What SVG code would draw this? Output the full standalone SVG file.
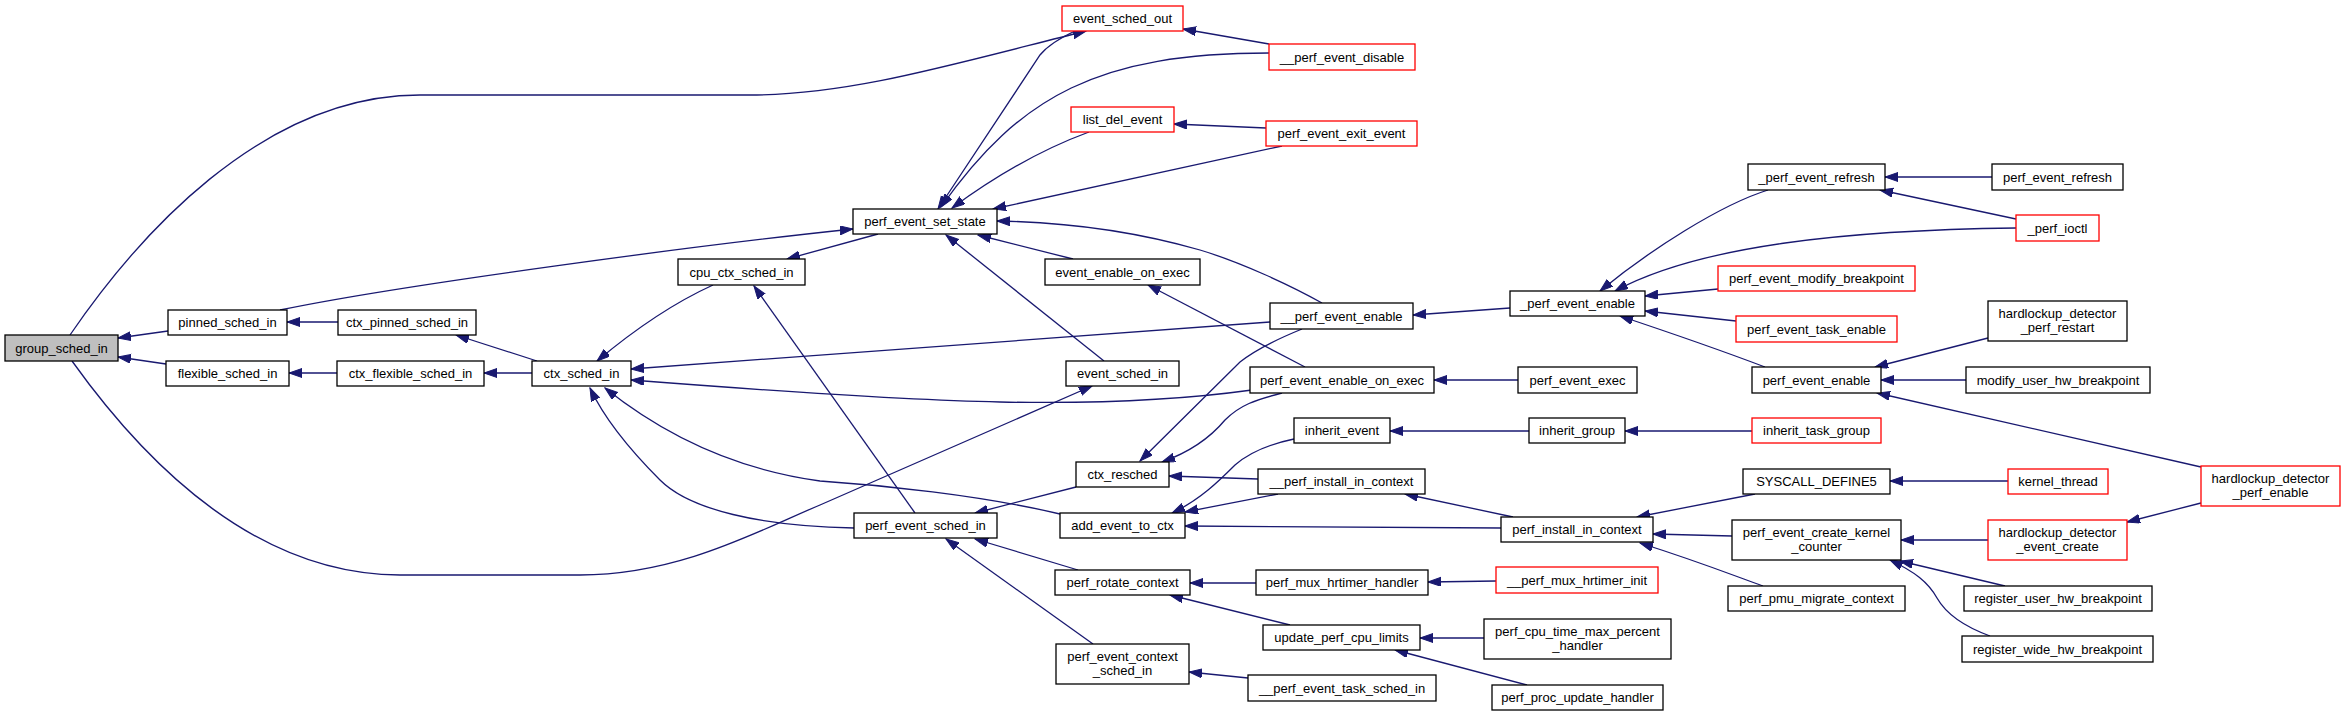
<svg xmlns="http://www.w3.org/2000/svg" width="2345" height="716" viewBox="0 0 2345 716">
<style>
.n rect{fill:#fff;stroke:#000;stroke-width:1.3}
.n.r rect{stroke:#ff0000}
.n.g rect{fill:#bfbfbf}
.n text{font-family:"Liberation Sans",Arial,sans-serif;font-size:13px;fill:#000;text-anchor:middle}
#edges path{fill:none;stroke:#191970;stroke-width:1.3;marker-end:url(#ah)}
</style>
<defs>
<marker id="ah" markerUnits="userSpaceOnUse" markerWidth="14" markerHeight="10" refX="13" refY="4.5" orient="auto">
<path d="M0,0 L13,4.5 L0,9 z" fill="#191970" stroke="#191970" stroke-width="1"/>
</marker>
</defs>
<rect width="2345" height="716" fill="#fff"/>
<g id="edges">
<path d="M168,331 L118,338"/>
<path d="M166,364 L118,357"/>
<path d="M70,335 C135,240 260,95 420,95 L750,95 C850,95 950,65 1086,31"/>
<path d="M72,361 C150,470 260,575 400,575 L580,575 C680,575 760,530 820,505 L1092,386"/>
<path d="M338,322 L287,322"/>
<path d="M337,373 L289,373"/>
<path d="M280,310 C400,285 700,245 853,229"/>
<path d="M537,361 L456,335"/>
<path d="M532,373 L484,373"/>
<path d="M713,285 C680,300 640,325 597,361"/>
<path d="M878,234 L787,259"/>
<path d="M915,513 L754,286"/>
<path d="M1270,322 L631,369"/>
<path d="M1252,390 C1180,400 1100,404 1000,402 C900,400 760,390 631,380"/>
<path d="M1075,31 C1060,38 1048,45 1040,55 L938,209"/>
<path d="M1269,53 C1100,53 1020,95 941,207"/>
<path d="M1269,44 L1183,29"/>
<path d="M1089,132 C1040,150 990,180 952,208"/>
<path d="M1266,128 L1174,124"/>
<path d="M1282,146 L993,209"/>
<path d="M1322,303 C1290,285 1240,262 1200,250 C1130,230 1060,222 997,221"/>
<path d="M1073,259 L978,235"/>
<path d="M1104,361 L946,235"/>
<path d="M1305,367 L1148,285"/>
<path d="M1510,308 L1413,315"/>
<path d="M1302,329 C1275,340 1255,350 1240,362 L1140,461"/>
<path d="M1282,393 C1255,400 1240,405 1225,420 C1210,438 1190,452 1162,462"/>
<path d="M1294,439 C1270,444 1250,452 1235,465 C1220,480 1200,500 1172,513"/>
<path d="M1258,479 L1169,476"/>
<path d="M1278,494 L1185,512"/>
<path d="M1501,528 L1185,526"/>
<path d="M1076,487 L975,513"/>
<path d="M1060,514 C980,495 880,485 820,481 C740,470 670,440 605,388"/>
<path d="M854,528 C760,526 690,510 660,480 C630,450 605,420 590,388"/>
<path d="M1078,570 L975,539"/>
<path d="M1093,644 L946,539"/>
<path d="M1256,583 L1190,583"/>
<path d="M1290,625 L1170,595"/>
<path d="M1248,678 L1189,672"/>
<path d="M1768,190 C1720,205 1650,250 1600,291"/>
<path d="M2016,228 C1850,230 1700,245 1615,291"/>
<path d="M1718,289 L1645,296"/>
<path d="M1736,321 L1645,311"/>
<path d="M1765,367 C1720,350 1680,336 1620,316"/>
<path d="M1992,177 L1885,177"/>
<path d="M2016,219 L1880,190"/>
<path d="M1988,338 L1875,367"/>
<path d="M1966,380 L1881,380"/>
<path d="M2201,467 L1877,393"/>
<path d="M1529,431 L1390,431"/>
<path d="M1752,431 L1625,431"/>
<path d="M1513,517 L1405,494"/>
<path d="M1755,494 L1637,517"/>
<path d="M1732,536 L1653,534"/>
<path d="M1763,586 C1735,576 1700,562 1640,543"/>
<path d="M2008,481 L1890,481"/>
<path d="M1988,540 L1901,540"/>
<path d="M2005,586 L1900,561"/>
<path d="M1990,636 C1960,625 1945,612 1937,598 C1928,582 1915,572 1890,560"/>
<path d="M2201,503 L2127,522"/>
<path d="M1496,581 L1428,582"/>
<path d="M1484,638 L1420,638"/>
<path d="M1527,685 L1395,650"/>
<path d="M1518,380 L1434,380"/>
</g>
<g id="n1" class="n g"><rect x="5" y="335" width="113" height="26"/><text x="61.5" y="352.5">group_sched_in</text></g>
<g id="n2" class="n"><rect x="168" y="310" width="119" height="25"/><text x="227.5" y="327">pinned_sched_in</text></g>
<g id="n3" class="n"><rect x="166" y="361" width="123" height="25"/><text x="227.5" y="378">flexible_sched_in</text></g>
<g id="n4" class="n"><rect x="338" y="310" width="138" height="25"/><text x="407" y="327">ctx_pinned_sched_in</text></g>
<g id="n5" class="n"><rect x="337" y="361" width="147" height="25"/><text x="410.5" y="378">ctx_flexible_sched_in</text></g>
<g id="n6" class="n"><rect x="532" y="361" width="99" height="25"/><text x="581.5" y="378">ctx_sched_in</text></g>
<g id="n7" class="n"><rect x="678" y="259" width="127" height="26"/><text x="741.5" y="276.5">cpu_ctx_sched_in</text></g>
<g id="n8" class="n"><rect x="853" y="209" width="144" height="25"/><text x="925" y="226">perf_event_set_state</text></g>
<g id="n9" class="n"><rect x="854" y="513" width="143" height="25"/><text x="925.5" y="530">perf_event_sched_in</text></g>
<g id="n10" class="n r"><rect x="1062" y="6" width="121" height="25"/><text x="1122.5" y="23">event_sched_out</text></g>
<g id="n11" class="n r"><rect x="1071" y="107" width="103" height="25"/><text x="1122.5" y="124">list_del_event</text></g>
<g id="n12" class="n"><rect x="1045" y="259" width="155" height="26"/><text x="1122.5" y="276.5">event_enable_on_exec</text></g>
<g id="n13" class="n"><rect x="1066" y="361" width="113" height="25"/><text x="1122.5" y="378">event_sched_in</text></g>
<g id="n14" class="n"><rect x="1076" y="462" width="93" height="25"/><text x="1122.5" y="479">ctx_resched</text></g>
<g id="n15" class="n"><rect x="1060" y="513" width="125" height="25"/><text x="1122.5" y="530">add_event_to_ctx</text></g>
<g id="n16" class="n"><rect x="1055" y="570" width="135" height="25"/><text x="1122.5" y="587">perf_rotate_context</text></g>
<g id="n17" class="n"><rect x="1056" y="644" width="133" height="40"/><text x="1122.5" y="661">perf_event_context</text><text x="1122.5" y="675">_sched_in</text></g>
<g id="n18" class="n r"><rect x="1269" y="44" width="146" height="26"/><text x="1342" y="61.5">__perf_event_disable</text></g>
<g id="n19" class="n r"><rect x="1266" y="121" width="151" height="25"/><text x="1341.5" y="138">perf_event_exit_event</text></g>
<g id="n20" class="n"><rect x="1270" y="303" width="143" height="26"/><text x="1341.5" y="320.5">__perf_event_enable</text></g>
<g id="n21" class="n"><rect x="1250" y="367" width="184" height="26"/><text x="1342" y="384.5">perf_event_enable_on_exec</text></g>
<g id="n22" class="n"><rect x="1294" y="418" width="96" height="25"/><text x="1342" y="435">inherit_event</text></g>
<g id="n23" class="n"><rect x="1258" y="469" width="167" height="25"/><text x="1341.5" y="486">__perf_install_in_context</text></g>
<g id="n24" class="n"><rect x="1256" y="570" width="172" height="25"/><text x="1342" y="587">perf_mux_hrtimer_handler</text></g>
<g id="n25" class="n"><rect x="1263" y="625" width="157" height="25"/><text x="1341.5" y="642">update_perf_cpu_limits</text></g>
<g id="n26" class="n"><rect x="1248" y="675" width="188" height="26"/><text x="1342" y="692.5">__perf_event_task_sched_in</text></g>
<g id="n27" class="n"><rect x="1510" y="291" width="135" height="25"/><text x="1577.5" y="308">_perf_event_enable</text></g>
<g id="n28" class="n"><rect x="1518" y="367" width="119" height="26"/><text x="1577.5" y="384.5">perf_event_exec</text></g>
<g id="n29" class="n"><rect x="1529" y="418" width="96" height="25"/><text x="1577" y="435">inherit_group</text></g>
<g id="n30" class="n"><rect x="1501" y="517" width="152" height="25"/><text x="1577" y="534">perf_install_in_context</text></g>
<g id="n31" class="n r"><rect x="1496" y="567" width="162" height="26"/><text x="1577" y="584.5">__perf_mux_hrtimer_init</text></g>
<g id="n32" class="n"><rect x="1484" y="619" width="187" height="40"/><text x="1577.5" y="636">perf_cpu_time_max_percent</text><text x="1577.5" y="650">_handler</text></g>
<g id="n33" class="n"><rect x="1492" y="685" width="171" height="25"/><text x="1577.5" y="702">perf_proc_update_handler</text></g>
<g id="n34" class="n"><rect x="1748" y="164" width="137" height="26"/><text x="1816.5" y="181.5">_perf_event_refresh</text></g>
<g id="n35" class="n r"><rect x="1718" y="266" width="197" height="25"/><text x="1816.5" y="283">perf_event_modify_breakpoint</text></g>
<g id="n36" class="n r"><rect x="1736" y="316" width="161" height="26"/><text x="1816.5" y="333.5">perf_event_task_enable</text></g>
<g id="n37" class="n"><rect x="1752" y="367" width="129" height="26"/><text x="1816.5" y="384.5">perf_event_enable</text></g>
<g id="n38" class="n r"><rect x="1752" y="418" width="129" height="25"/><text x="1816.5" y="435">inherit_task_group</text></g>
<g id="n39" class="n"><rect x="1743" y="469" width="147" height="25"/><text x="1816.5" y="486">SYSCALL_DEFINE5</text></g>
<g id="n40" class="n"><rect x="1732" y="520" width="169" height="40"/><text x="1816.5" y="537">perf_event_create_kernel</text><text x="1816.5" y="551">_counter</text></g>
<g id="n41" class="n"><rect x="1728" y="586" width="177" height="25"/><text x="1816.5" y="603">perf_pmu_migrate_context</text></g>
<g id="n42" class="n"><rect x="1992" y="164" width="131" height="26"/><text x="2057.5" y="181.5">perf_event_refresh</text></g>
<g id="n43" class="n r"><rect x="2016" y="215" width="83" height="26"/><text x="2057.5" y="232.5">_perf_ioctl</text></g>
<g id="n44" class="n"><rect x="1988" y="301" width="139" height="40"/><text x="2057.5" y="318">hardlockup_detector</text><text x="2057.5" y="332">_perf_restart</text></g>
<g id="n45" class="n"><rect x="1966" y="367" width="184" height="26"/><text x="2058" y="384.5">modify_user_hw_breakpoint</text></g>
<g id="n46" class="n r"><rect x="2008" y="469" width="100" height="25"/><text x="2058" y="486">kernel_thread</text></g>
<g id="n47" class="n r"><rect x="1988" y="520" width="139" height="40"/><text x="2057.5" y="537">hardlockup_detector</text><text x="2057.5" y="551">_event_create</text></g>
<g id="n48" class="n"><rect x="1964" y="586" width="188" height="25"/><text x="2058" y="603">register_user_hw_breakpoint</text></g>
<g id="n49" class="n"><rect x="1962" y="636" width="191" height="26"/><text x="2057.5" y="653.5">register_wide_hw_breakpoint</text></g>
<g id="n50" class="n r"><rect x="2201" y="466" width="139" height="40"/><text x="2270.5" y="483">hardlockup_detector</text><text x="2270.5" y="497">_perf_enable</text></g>
</svg>
